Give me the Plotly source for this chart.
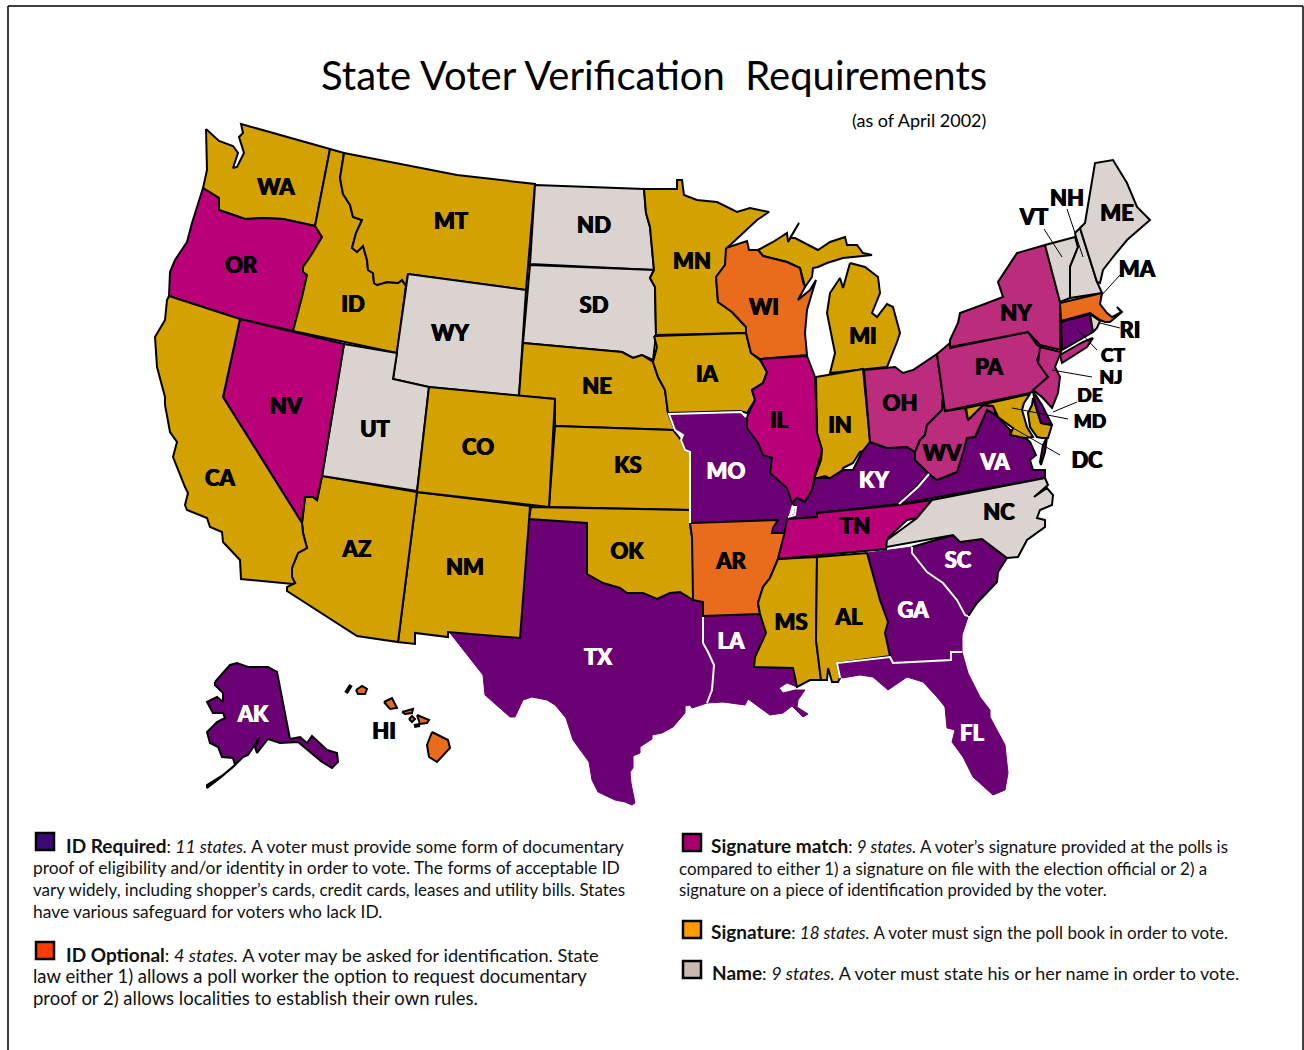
import plotly.graph_objects as go

# Plotly's state geometry comes from a CDN that cannot be reached here, so the
# outlines below were traced from the reference, in page pixels (y grows downward).
WA = [(206,129),(219,141),(233,146),(238,153),(233,168),(237,167),(244,153),(239,137),(243,133),(241,124),(330,149),(315,226),(283,219),(263,218),(245,219),(230,214),(219,210),(219,198),(203,188),(207,170)]
OR = [(203,188),(219,198),(219,210),(230,214),(245,219),(263,218),(283,219),(315,226),(322,237),(310,257),(303,267),(303,272),(307,275),(302,297),(293,331),(240,319),(169,296),(170,272),(175,260),(187,242),(192,223)]
ID = [(330,149),(344,153),(340,178),(343,194),(350,205),(353,217),(362,220),(356,233),(352,248),(357,252),(363,246),(367,260),(368,270),(373,273),(374,283),(377,285),(387,282),(398,283),(402,280),(406,286),(397,353),(293,331),(302,297),(307,275),(303,272),(303,267),(310,257),(322,237),(315,226)]
MT = [(344,153),(457,175),(535,184),(526,290),(408,274),(406,286),(402,280),(398,283),(387,282),(377,285),(374,283),(373,273),(368,270),(367,260),(363,246),(357,252),(352,248),(356,233),(362,220),(353,217),(350,205),(343,194),(340,178)]
WY = [(408,274),(526,290),(519,396),(429,387),(393,379)]
ND = [(535,185),(644,189),(646,213),(650,227),(654,270),(530,264)]
SD = [(530,265),(654,270),(650,278),(655,287),(656,335),(654,353),(653,360),(642,355),(633,358),(622,352),(523,343)]
NE = [(523,343),(622,352),(633,358),(642,355),(653,362),(658,377),(665,390),(668,413),(675,430),(555,426),(555,399),(519,396)]
MN = [(644,189),(677,189),(677,180),(682,180),(684,195),(697,200),(717,202),(723,205),(737,212),(750,208),(769,212),(757,220),(743,233),(727,248),(725,265),(716,277),(718,302),(732,312),(746,327),(746,333),(656,335),(655,287),(650,278),(654,270),(650,227),(646,213)]
IA = [(654,336),(746,333),(751,353),(760,360),(767,372),(763,383),(752,390),(755,400),(747,413),(740,411),(668,413),(665,390),(658,377),(653,362),(657,347)]
WI = [(726,248),(747,241),(749,250),(758,250),(763,256),(787,262),(800,268),(803,282),(805,287),(798,300),(810,290),(816,280),(812,293),(807,310),(805,333),(807,355),(760,359),(751,353),(746,333),(746,327),(732,312),(718,302),(716,277),(725,265)]
MI_UPPER = [(758,250),(773,242),(787,233),(788,242),(799,223),(790,238),(795,238),(805,243),(818,250),(830,242),(845,237),(847,245),(857,245),(863,253),(872,255),(853,257),(843,258),(827,263),(818,267),(813,268),(812,277),(805,287),(800,268),(787,262),(763,256)]
MI_LOWER = [(850,263),(865,267),(878,277),(880,293),(872,313),(877,317),(887,304),(893,307),(900,333),(897,342),(887,367),(830,373),(835,353),(830,330),(827,313),(830,293),(840,278),(843,288)]
IN = [(816,377),(863,369),(870,441),(870,450),(860,452),(853,463),(843,468),(840,477),(833,480),(825,476),(814,479),(821,460),(822,450),(817,433)]
IL = [(760,359),(807,356),(815,377),(817,433),(822,450),(814,479),(812,490),(805,502),(797,498),(792,503),(787,488),(770,473),(772,458),(763,455),(758,443),(747,428),(747,417),(755,400),(752,390),(763,383),(767,372)]
MO = [(669,414),(741,412),(746,417),(747,428),(758,443),(763,455),(772,458),(770,473),(787,488),(792,503),(788,517),(785,533),(772,533),(778,521),(690,523),(690,452),(685,450),(681,440),(683,435),(675,430)]
KS = [(555,426),(673,430),(681,440),(685,450),(690,452),(690,510),(549,507)]
OK = [(531,507),(690,510),(690,523),(692,537),(693,567),(693,600),(680,592),(670,593),(657,599),(643,593),(627,593),(620,588),(603,583),(587,574),(587,523),(529,519)]
TX = [(529,519),(587,523),(587,574),(603,583),(620,588),(627,593),(643,593),(657,599),(670,593),(680,592),(693,600),(703,602),(703,643),(708,652),(714,665),(713,678),(712,690),(707,703),(692,708),(690,705),(685,706),(685,713),(673,727),(662,733),(652,735),(652,739),(640,747),(640,753),(633,756),(633,768),(630,772),(631,783),(635,803),(632,805),(625,802),(615,800),(598,792),(592,780),(589,762),(573,740),(566,718),(555,705),(547,700),(532,697),(523,700),(515,717),(510,717),(485,695),(483,675),(450,633),(520,638)]
NM = [(417,492),(530,506),(529,520),(520,638),(448,632),(448,637),(415,633),(415,644),(398,642)]
AZ = [(322,476),(417,492),(398,642),(357,636),(287,591),(287,587),(295,583),(292,577),(292,568),(298,553),(307,548),(303,533),(302,523),(305,497),(313,497),(317,500)]
UT = [(344,344),(397,353),(393,379),(429,387),(417,491),(322,476)]
CO = [(429,387),(555,399),(549,507),(417,492)]
NV = [(240,319),(344,344),(322,476),(317,500),(313,497),(305,497),(302,523),(223,397)]
CA = [(169,296),(240,319),(223,397),(302,523),(303,533),(307,548),(298,553),(292,568),(292,577),(295,583),(293,584),(241,579),(240,560),(223,542),(222,532),(210,527),(207,518),(187,510),(185,505),(188,493),(185,487),(173,457),(177,442),(170,432),(165,405),(165,397),(157,367),(155,337),(165,320),(167,300)]
AR = [(690,523),(778,520),(773,528),(772,533),(785,533),(778,559),(770,578),(763,587),(758,603),(760,614),(703,616),(703,602),(693,600),(692,537)]
LA = [(703,617),(760,614),(766,633),(755,657),(754,667),(793,666),(797,687),(787,683),(779,688),(783,693),(795,690),(805,690),(798,700),(797,707),(808,714),(803,717),(792,706),(783,713),(770,715),(757,705),(748,699),(745,705),(723,702),(707,703),(712,690),(713,678),(714,665),(708,652),(703,643)]
MS = [(778,559),(817,557),(816,640),(821,680),(810,680),(797,687),(793,668),(754,667),(755,657),(766,633),(760,614),(758,603),(763,587),(770,578)]
AL = [(817,557),(867,553),(880,600),(888,622),(885,633),(890,656),(837,663),(840,678),(838,682),(832,682),(828,668),(827,680),(821,680),(816,640)]
GA = [(867,553),(912,547),(912,553),(927,572),(943,583),(957,600),(965,615),(968,617),(962,635),(962,652),(951,652),(951,660),(893,663),(890,656),(885,633),(888,622),(880,600)]
SC = [(912,547),(953,535),(960,542),(982,539),(1007,558),(998,572),(997,582),(977,603),(969,615),(965,615),(957,600),(943,583),(927,572),(912,553)]
FL = [(837,663),(890,657),(893,663),(951,660),(951,652),(962,652),(968,673),(980,697),(990,710),(990,717),(1005,745),(1008,773),(1005,790),(993,795),(973,777),(963,757),(952,742),(955,730),(947,728),(945,707),(937,697),(923,682),(907,677),(888,690),(873,677),(860,675),(842,678)]
TN = [(787,519),(817,517),(817,513),(898,505),(932,500),(917,518),(907,520),(888,538),(886,549),(778,559),(784,535)]
KY = [(815,478),(830,478),(843,470),(853,470),(862,452),(870,442),(887,448),(907,447),(915,452),(915,460),(929,474),(899,504),(817,513),(817,517),(787,519),(788,517),(795,515),(796,507),(792,503),(797,498),(805,502),(812,490)]
VA = [(929,474),(937,480),(957,472),(963,453),(967,438),(975,437),(987,410),(998,417),(1010,430),(1010,435),(1025,438),(1030,442),(1036,455),(1030,460),(1033,470),(1045,470),(1045,478),(899,504)]
VA_SHORE = [(1047,437),(1045,452),(1041,465),(1040,462),(1043,445)]
WV = [(943,397),(942,410),(927,425),(925,435),(920,440),(915,452),(915,460),(929,474),(937,480),(957,472),(963,453),(967,438),(975,437),(987,410),(997,415),(993,406),(983,405),(968,420),(965,408),(945,411)]
OH = [(864,370),(895,367),(903,373),(913,370),(937,354),(943,397),(942,410),(927,425),(925,435),(920,440),(915,452),(907,447),(887,448),(870,442)]
PA = [(937,354),(950,343),(950,348),(1028,332),(1037,345),(1042,347),(1037,360),(1048,377),(1040,388),(1030,393),(945,411)]
NY = [(950,347),(950,340),(958,323),(960,313),(982,305),(1003,297),(998,282),(1017,253),(1045,245),(1060,302),(1060,345),(1061,350),(1040,345),(1028,332)]
LONG_ISLAND = [(1060,355),(1083,342),(1093,338),(1087,347),(1062,363)]
NJ = [(1040,347),(1061,352),(1055,367),(1060,377),(1058,393),(1052,408),(1042,397),(1033,390),(1048,377),(1038,363)]
MD_WEST = [(966,408),(1030,394),(1024,403),(1022,410),(1027,427),(1033,437),(1025,438),(1010,435),(1013,428),(998,417),(993,406),(983,405),(968,420)]
MD_EAST = [(1033,398),(1041,423),(1052,425),(1048,438),(1042,438),(1037,437),(1030,427),(1028,413),(1032,405)]
DE = [(1033,391),(1042,405),(1052,425),(1041,423),(1035,403)]
VT = [(1045,245),(1075,237),(1078,247),(1070,267),(1070,298),(1060,302)]
NH = [(1075,233),(1080,228),(1097,282),(1102,293),(1070,298),(1070,267),(1078,247)]
ME = [(1080,228),(1085,223),(1095,163),(1113,160),(1127,183),(1137,207),(1150,220),(1127,240),(1113,257),(1103,270),(1100,283),(1097,282)]
MA = [(1060,303),(1102,293),(1100,304),(1107,313),(1112,317),(1121,312),(1117,307),(1122,312),(1110,322),(1105,322),(1100,320),(1090,313),(1061,321)]
CT = [(1061,322),(1090,314),(1093,332),(1062,350)]
RI = [(1090,314),(1100,321),(1097,328),(1093,332)]
NC = [(886,549),(887,540),(917,518),(932,500),(1045,478),(1048,485),(1034,497),(1047,488),(1053,495),(1052,505),(1040,510),(1037,518),(1045,520),(1045,527),(1027,540),(1018,557),(1007,558),(982,539),(960,542),(953,535),(886,547)]
AK = [(215,682),(230,665),(237,663),(248,667),(268,667),(277,672),(290,739),(300,737),(307,743),(312,736),(327,750),(337,753),(338,762),(332,768),(322,762),(298,742),(280,743),(268,739),(257,753),(255,747),(260,737),(248,755),(243,757),(233,767),(220,778),(207,788),(207,785),(223,775),(235,765),(233,758),(222,757),(218,747),(210,743),(207,732),(217,722),(225,718),(223,713),(213,713),(207,702),(217,697),(223,702),(223,693),(215,685)]
HI_KAUAI = [(356,690),(362,686),(367,689),(365,694),(358,694)]
HI_OAHU = [(384,702),(392,698),(397,708),(390,709)]
HI_MOLOKAI = [(402,712),(413,709),(412,713),(405,714)]
HI_LANAI = [(409,719),(412,716),(415,719),(412,722)]
HI_MAUI = [(417,715),(429,720),(427,723),(420,724)]
HI_BIG = [(432,732),(448,740),(450,748),(437,762),(429,757),(427,745)]
HI_NIIHAU = [(346,693),(351,685)]
HI_KAHOOLAWE = [(414,726),(420,725)]

WHITE_BORDERS = [
    [(746,417),(741,412),(669,414),(675,430),(683,435),(681,440),(685,450),(690,452),(690,523)],
    [(792,507),(796,507),(795,515),(788,517)],
    [(929,474),(918,487),(899,504)],
    [(912,547),(912,553),(927,572),(943,583),(957,600),(965,615),(968,616)],
    [(840,678),(837,663),(890,657),(893,663),(951,660),(951,652),(962,652)],
    [(703,617),(703,643),(708,652),(714,665),(713,678),(712,690),(707,703)],
]
LEADERS = [
    [(1044,229),(1062,257)], [(1067,209),(1083,257)], [(1120,275),(1100,297)],
    [(1120,328),(1100,323)], [(1097,350),(1077,329)], [(1092,377),(1052,370)],
    [(1077,402),(1053,412)], [(1068,419),(1012,408)], [(1060,455),(1013,428)],
]

PURPLE, MAGENTA, ROSE, GOLD, GREY, ORANGE = "#6b0075", "#ba0078", "#bc2c7c", "#d3a100", "#dad3cf", "#e96b1c"

NO_OUTLINE = [(TX,PURPLE),(LA,PURPLE),(FL,PURPLE),(GA,PURPLE),(MO,PURPLE)]
OUTLINED = [
    (WA,GOLD),(OR,MAGENTA),(ID,GOLD),(MT,GOLD),(WY,GREY),(ND,GREY),(SD,GREY),(NE,GOLD),(MN,GOLD),(IA,GOLD),
    (MI_UPPER,GOLD),(MI_LOWER,GOLD),(WI,ORANGE),(IN,GOLD),(IL,MAGENTA),(KS,GOLD),(OK,GOLD),(NM,GOLD),(AZ,GOLD),
    (UT,GREY),(CO,GOLD),(NV,MAGENTA),(CA,GOLD),(AR,ORANGE),(MS,GOLD),(AL,GOLD),(SC,PURPLE),(KY,PURPLE),(TN,MAGENTA),
    (VA,PURPLE),(VA_SHORE,PURPLE),(OH,ROSE),(WV,ROSE),(PA,ROSE),(NY,ROSE),(LONG_ISLAND,ROSE),(NJ,ROSE),
    (MD_WEST,GOLD),(MD_EAST,GOLD),(DE,PURPLE),(VT,GREY),(NH,GREY),(ME,GREY),(MA,ORANGE),(CT,PURPLE),(RI,GREY),(NC,GREY),
    (AK,PURPLE),(HI_KAUAI,ORANGE),(HI_OAHU,ORANGE),(HI_MOLOKAI,ORANGE),(HI_LANAI,ORANGE),(HI_MAUI,ORANGE),(HI_BIG,ORANGE),
]
BLACK_ISLETS = [HI_NIIHAU, HI_KAHOOLAWE]

DARK_LABELS = ["WA","OR","CA","NV","ID","MT","WY","UT","AZ","CO","NM","ND","SD","NE","KS","OK","MN","IA","AR","WI","IL","MI","IN","OH","TN","MS","AL","NC","WV","PA","NY","ME","VT","NH","MA","RI","DC","HI"]
DARK_X = [276,241,220,286,353,451,450,375,357,478,465,594,594,597,628,627,692,707,731,764,779,863,840,900,855,791,849,999,942,989,1016,1117,1034,1067,1137,1130,1087,384]
DARK_Y = [187,265,478,406,304,221,333,429,549,447,567,225,305,386,465,551,261,374,561,307,420,336,425,403,526,622,617,512,453,367,313,213,217,198,269,330,460,731]
SMALL_LABELS = ["CT","NJ","DE","MD"]
SMALL_X = [1113,1111,1090,1090]
SMALL_Y = [355,377,395,421]
LIGHT_LABELS = ["TX","MO","LA","KY","GA","FL","SC","VA","AK"]
LIGHT_X = [598,726,731,874,913,972,958,995,253]
LIGHT_Y = [657,471,641,480,610,733,560,462,714]

TITLE = "State Voter Verification  Requirements"
SUBTITLE = "(as of April 2002)"
B = '<span style="font-size:19px"><b>%s</b></span>'
LEFT_NOTES = [
    B % "ID Required" + ": <i>11 states.</i> A voter must provide some form of documentary",
    "proof of eligibility and/or identity in order to vote. The forms of acceptable ID",
    "vary widely, including shopper’s cards, credit cards, leases and utility bills. States",
    "have various safeguard for voters who lack ID.",
    B % "ID Optional" + ": <i>4 states.</i> A voter may be asked for identification. State",
    "law either 1) allows a poll worker the option to request documentary",
    "proof or 2) allows localities to establish their own rules.",
]
LEFT_NOTE_X = [64,31,31,31,64,31,31]
LEFT_NOTE_Y = [845,867,889,911,954,976,998]
LEFT_NOTE_SIZES = [17.5,17.4,17.0,17.4,18.2,18.5,18.5]
RIGHT_NOTES = [
    B % "Signature match" + ": <i>9 states.</i> A voter’s signature provided at the polls is",
    "compared to either 1) a signature on file with the election official or 2) a",
    "signature on a piece of identification provided by the voter.",
    B % "Signature" + ": <i>18 states.</i> A voter must sign the poll book in order to vote.",
    B % "Name" + ": <i>9 states.</i> A voter must state his or her name in order to vote.",
]
RIGHT_NOTE_X = [709,677,677,709,710]
RIGHT_NOTE_Y = [845,868,890,931,972]
RIGHT_NOTE_SIZES = [16.9,16.9,16.6,17.0,18.0]
SWATCH_X = [36,36,683,683,683]
SWATCH_Y = [833,942,834,921,961]
SWATCH_COLORS = ["#3c0a78","#ff3c00","#a8006f","#ff9900","#c8bab0"]

FONT = "Lato"
LABEL_DY = 2
fig = go.Figure()

def xs(p): return [q[0] for q in p] + [p[0][0]]
def ys(p): return [q[1] for q in p] + [p[0][1]]

for poly, col in NO_OUTLINE:
    fig.add_trace(go.Scatter(x=xs(poly), y=ys(poly), mode="lines", fill="toself", fillcolor=col,
                             line=dict(color=col, width=1), hoverinfo="skip"))
for poly, col in OUTLINED:
    fig.add_trace(go.Scatter(x=xs(poly), y=ys(poly), mode="lines", fill="toself", fillcolor=col,
                             line=dict(color="black", width=2), hoverinfo="skip"))
for seg in BLACK_ISLETS:
    fig.add_trace(go.Scatter(x=[q[0] for q in seg], y=[q[1] for q in seg], mode="lines",
                             line=dict(color="black", width=4), hoverinfo="skip"))
for seg in WHITE_BORDERS:
    fig.add_trace(go.Scatter(x=[q[0] for q in seg], y=[q[1] for q in seg], mode="lines",
                             line=dict(color="white", width=2), hoverinfo="skip"))
for seg in LEADERS:
    fig.add_trace(go.Scatter(x=[q[0] for q in seg], y=[q[1] for q in seg], mode="lines",
                             line=dict(color="black", width=1), hoverinfo="skip"))

def labels(txt, x, y, size, color):
    fig.add_trace(go.Scatter(x=x, y=[v + LABEL_DY for v in y], text=txt, mode="text", hoverinfo="skip",
                             textfont=dict(family=FONT, size=size, color=color, weight=900,
                                           shadow=f"0.5px 0 0 {color}, -0.5px 0 0 {color}")))
labels(DARK_LABELS, DARK_X, DARK_Y, 22, "black")
labels(SMALL_LABELS, SMALL_X, SMALL_Y, 19, "black")
labels(LIGHT_LABELS, LIGHT_X, LIGHT_Y, 22, "white")

shapes = [dict(type="line", x0=8, y0=1050, x1=8, y1=6, line=dict(color="black", width=1.5)),
          dict(type="line", x0=8, y0=6, x1=1303, y1=6, line=dict(color="black", width=1.5)),
          dict(type="line", x0=1303, y0=6, x1=1303, y1=1050, line=dict(color="black", width=1.5))]
for sx, sy, c in zip(SWATCH_X, SWATCH_Y, SWATCH_COLORS):
    shapes.append(dict(type="rect", x0=sx, y0=sy, x1=sx+18, y1=sy+17, fillcolor=c, line=dict(color="black", width=2.5)))

ann = [dict(x=654, y=75, text=TITLE, showarrow=False, font=dict(family=FONT, size=40, color="black")),
       dict(x=988, y=120, text=SUBTITLE, xanchor="right", showarrow=False, font=dict(family=FONT, size=18, color="black"))]
for t, x, y, s in zip(LEFT_NOTES + RIGHT_NOTES, LEFT_NOTE_X + RIGHT_NOTE_X, LEFT_NOTE_Y + RIGHT_NOTE_Y,
                      LEFT_NOTE_SIZES + RIGHT_NOTE_SIZES):
    ann.append(dict(x=x, y=y, text=t, xanchor="left", yanchor="middle", showarrow=False,
                    font=dict(family=FONT, size=s, color="#111111")))

fig.update_layout(
    width=1304, height=1050, autosize=False, showlegend=False,
    margin=dict(l=0, r=0, t=0, b=0), paper_bgcolor="white", plot_bgcolor="white",
    xaxis=dict(range=[0,1304], visible=False, fixedrange=True),
    yaxis=dict(range=[1050,0], visible=False, fixedrange=True),
    shapes=shapes, annotations=ann,
)
# Drop the page's default 8px body margin so the plot lines up with the page pixels.
fig.write_html("out.html", config=dict(displayModeBar=False),
               post_script="document.body.style.margin='0';document.documentElement.style.overflow='hidden';")
